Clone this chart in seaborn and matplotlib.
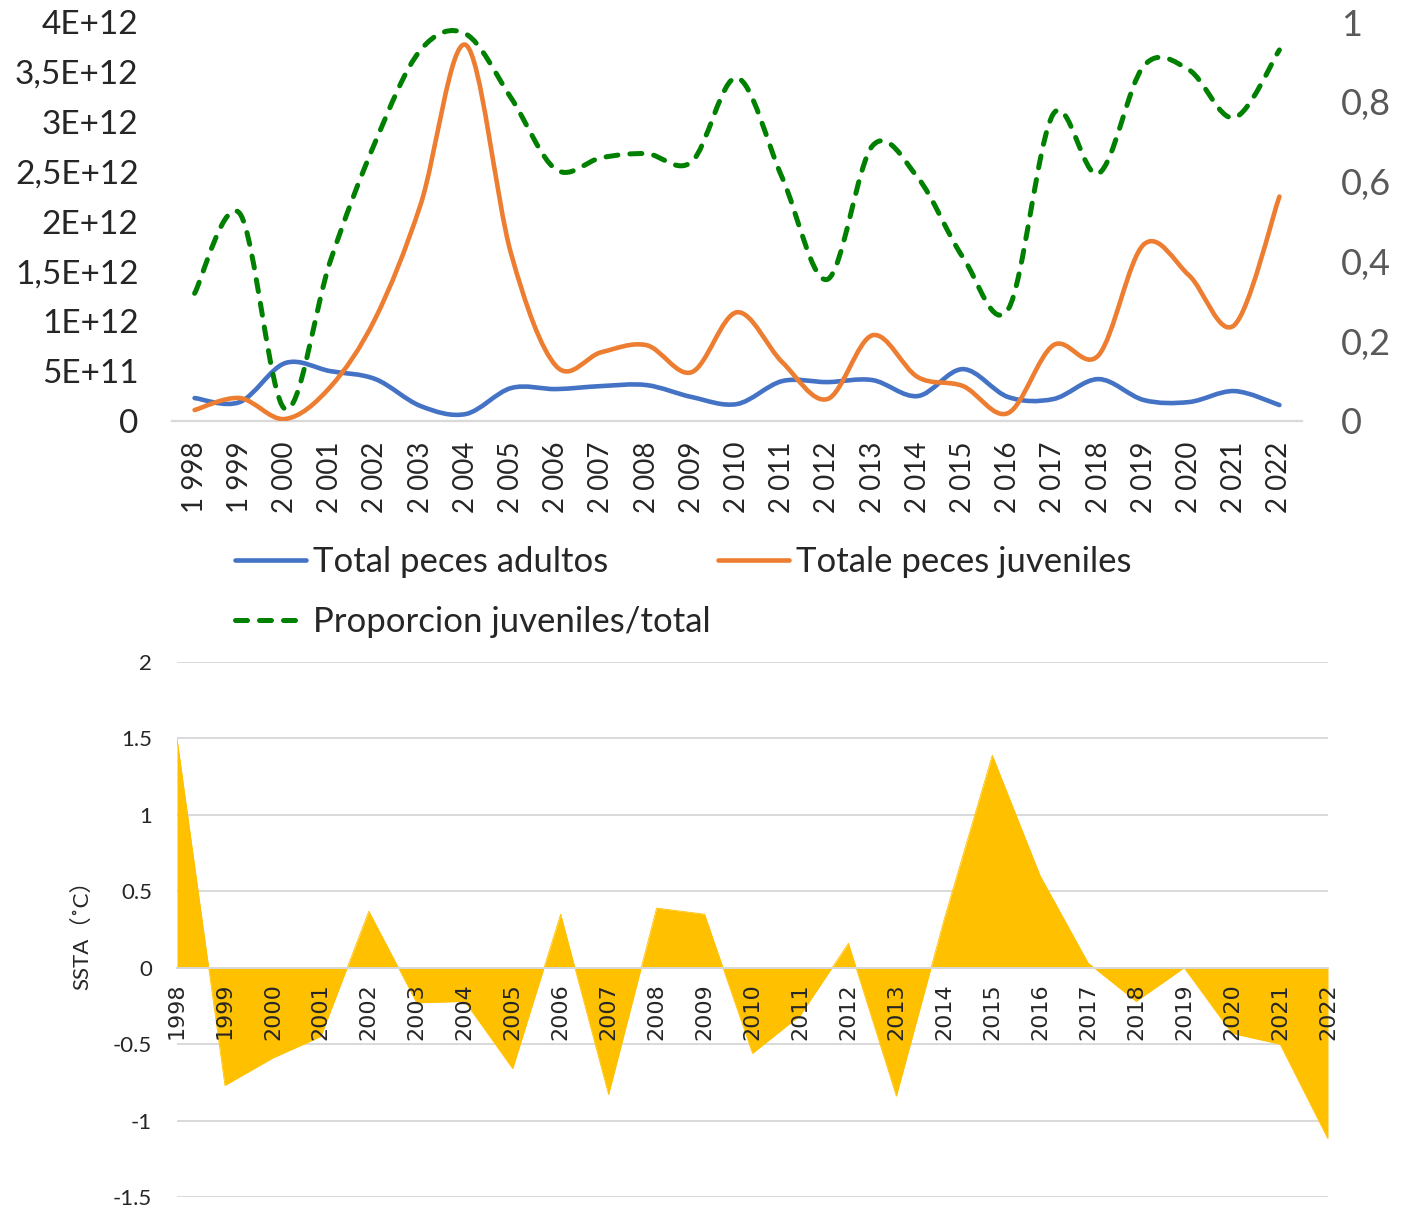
import numpy as np
import matplotlib
matplotlib.use("Agg")
import matplotlib.pyplot as plt
from matplotlib.path import Path
from matplotlib.patches import PathPatch
from matplotlib.lines import Line2D
import seaborn as sns

# data
years = list(range(1998, 2023))
adultos = [0.23e12, 0.19e12, 0.58e12, 0.50e12, 0.42e12, 0.15e12, 0.07e12, 0.33e12,
           0.32e12, 0.35e12, 0.36e12, 0.24e12, 0.17e12, 0.40e12, 0.39e12, 0.41e12,
           0.25e12, 0.52e12, 0.24e12, 0.22e12, 0.42e12, 0.21e12, 0.19e12, 0.30e12, 0.16e12]
juveniles = [0.11e12, 0.23e12, 0.02e12, 0.34e12, 1.03e12, 2.17e12, 3.77e12, 1.68e12,
             0.55e12, 0.69e12, 0.76e12, 0.49e12, 1.09e12, 0.59e12, 0.22e12, 0.86e12,
             0.44e12, 0.35e12, 0.08e12, 0.76e12, 0.66e12, 1.77e12, 1.46e12, 0.96e12, 2.25e12]
proporcion = [0.32, 0.52, 0.03, 0.40, 0.70, 0.93, 0.97, 0.81, 0.63, 0.66, 0.67, 0.65,
              0.86, 0.61, 0.355, 0.69, 0.61, 0.41, 0.28, 0.77, 0.62, 0.89, 0.88, 0.76, 0.93]
ssta = [1.50, -0.77, -0.59, -0.45, 0.37, -0.23, -0.22, -0.66, 0.35, -0.83, 0.39, 0.35,
        -0.56, -0.31, 0.16, -0.84, 0.32, 1.39, 0.60, 0.03, -0.22, 0.00, -0.43, -0.50, -1.12]

left_ticks = [0, 0.5e12, 1e12, 1.5e12, 2e12, 2.5e12, 3e12, 3.5e12, 4e12]
left_labels = ["0", "5E+11", "1E+12", "1,5E+12", "2E+12", "2,5E+12", "3E+12", "3,5E+12", "4E+12"]
right_ticks = [0, 0.2, 0.4, 0.6, 0.8, 1.0]
right_labels = ["0", "0,2", "0,4", "0,6", "0,8", "1"]
ssta_ticks = [-1.5, -1, -0.5, 0, 0.5, 1, 1.5, 2]
ssta_labels = ["-1.5", "-1", "-0.5", "0", "0.5", "1", "1.5", "2"]
top_year_labels = [f"{y // 1000} {y % 1000:03d}" for y in years]

BLUE, ORANGE, GREEN, GOLD = "#4472C4", "#ED7D31", "#008000", "#FFC000"
GRID = "#d9d9d9"

sns.set_theme(style="white")
plt.rcParams["font.family"] = ["Lato", "DejaVu Sans"]


def smooth_patch(x, y, **kw):
    # Excel-like smoothed line: cubic bezier segments (Catmull-Rom control points)
    x = np.asarray(x, float)
    y = np.asarray(y, float)
    px = np.concatenate([[x[0]], x, [x[-1]]])
    py = np.concatenate([[y[0]], y, [y[-1]]])
    verts = [(x[0], y[0])]
    codes = [Path.MOVETO]
    for i in range(len(x) - 1):
        c1 = (px[i + 1] + (px[i + 2] - px[i]) / 6, py[i + 1] + (py[i + 2] - py[i]) / 6)
        c2 = (px[i + 2] - (px[i + 3] - px[i + 1]) / 6, py[i + 2] - (py[i + 3] - py[i + 1]) / 6)
        verts += [c1, c2, (px[i + 2], py[i + 2])]
        codes += [Path.CURVE4] * 3
    return PathPatch(Path(verts, codes), fill=False, **kw)


fig = plt.figure(figsize=(14.17, 12.08), dpi=100)

# ---- top chart
ax1 = fig.add_axes([172 / 1417, 1 - 421 / 1208, 1130 / 1417, 399 / 1208])
ax2 = ax1.twinx()

ax1.add_patch(smooth_patch(years, adultos, edgecolor=BLUE, lw=3.3, capstyle="round", zorder=3))
ax1.add_patch(smooth_patch(years, juveniles, edgecolor=ORANGE, lw=3.3, capstyle="round", zorder=3))
ax2.add_patch(smooth_patch(years, proporcion, edgecolor=GREEN, lw=3.6,
                           linestyle=(0, (2.4, 2.4)), capstyle="round", zorder=3))

ax1.set_xlim(1997.5, 2022.5)
ax1.set_ylim(0, 4e12)
ax2.set_ylim(0, 1)
ax1.set_xticks(years)
ax1.set_xticklabels(top_year_labels, rotation=90, fontsize=20)
ax1.set_yticks(left_ticks)
ax1.set_yticklabels(left_labels, fontsize=24)
ax2.set_yticks(right_ticks)
ax2.set_yticklabels(right_labels, fontsize=26, color="#595959")
ax1.tick_params(axis="x", length=0, pad=15)
ax1.tick_params(axis="y", length=0, pad=24)
ax2.tick_params(axis="y", length=0, pad=28)
for ax in (ax1, ax2):
    ax.grid(False)
    for s in ("top", "left", "right", "bottom"):
        ax.spines[s].set_visible(False)
ax1.spines["bottom"].set_visible(True)
ax1.spines["bottom"].set_color(GRID)
ax1.spines["bottom"].set_linewidth(1.6)

handles = [
    Line2D([], [], color=BLUE, lw=3.3, solid_capstyle="round"),
    Line2D([], [], color=GREEN, lw=3.6, linestyle=(0, (2.4, 2.4)), dash_capstyle="round"),
    Line2D([], [], color=ORANGE, lw=3.3, solid_capstyle="round"),
]
labels = ["Total peces adultos", "Proporcion juveniles/total", "Totale peces juveniles"]
fig.legend(handles, labels, ncol=2, loc="upper left", bbox_to_anchor=(235 / 1417, 1 - 546 / 1208),
           frameon=False, fontsize=25, handlelength=2.05, handletextpad=0.2,
           columnspacing=0.2, labelspacing=0.8, borderpad=0, borderaxespad=0)

# ---- bottom chart
ax3 = fig.add_axes([177 / 1417, 1 - 1197 / 1208, 1151 / 1417, 535 / 1208])
ax3.set_axisbelow(False)
for t in ssta_ticks:
    ax3.axhline(t, color=GRID, lw=1.4, zorder=0.5)
ax3.fill_between(years, ssta, 0, color=GOLD, lw=0, zorder=1)
sns.lineplot(x=years, y=ssta, ax=ax3, color=GOLD, lw=0.6, zorder=1.1)
ax3.set_xlim(1998, 2022)
ax3.set_ylim(-1.5, 2)
ax3.grid(False)
for s in ("top", "left", "right"):
    ax3.spines[s].set_visible(False)
ax3.spines["bottom"].set_position(("data", 0))
ax3.spines["bottom"].set_color(GRID)
ax3.spines["bottom"].set_linewidth(1.4)
ax3.spines["bottom"].set_zorder(2)
ax3.xaxis.set_zorder(3)
ax3.set_xticks(years)
ax3.set_xticklabels([str(y) for y in years], rotation=90, fontsize=16, family="DejaVu Sans")
ax3.set_yticks(ssta_ticks)
ax3.set_yticklabels(ssta_labels, fontsize=16)
ax3.tick_params(axis="x", length=5, width=1.2, color=GRID, pad=6, direction="out")
ax3.tick_params(axis="y", length=0, pad=18)
ax3.set_xlabel("")
ax3.set_ylabel("SSTA（˚C）", fontsize=16, family=["Lato", "Noto Sans CJK SC", "DejaVu Sans"])
ax3.yaxis.set_label_coords(-0.074, 0.5)

fig.savefig("out.png", dpi=100)
